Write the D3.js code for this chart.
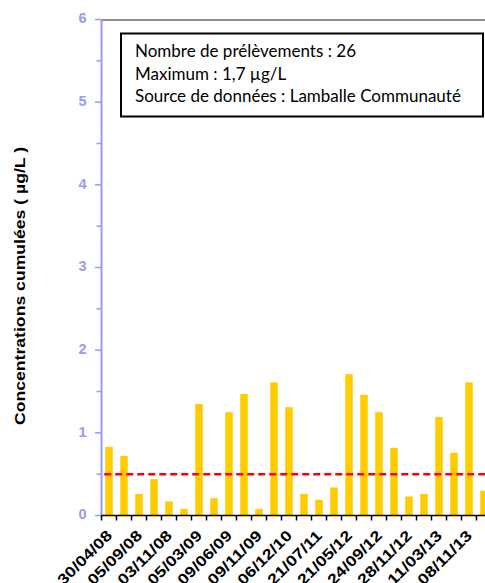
<!DOCTYPE html>
<html>
<head>
<meta charset="utf-8">
<script src="https://cdn.jsdelivr.net/npm/d3@7"></script>
<style>
  html, body { margin: 0; padding: 0; background: #fff; }
  svg { display: block; }
</style>
</head>
<body>
<div id="chart"></div>
<script>
// ---- Data ----
const sampleDates = ["30/04/08", "", "05/09/08", "", "03/11/08", "", "05/03/09", "",
  "09/06/09", "", "09/11/09", "", "06/12/10", "", "21/07/11", "", "21/05/12", "",
  "24/09/12", "", "28/11/12", "", "11/03/13", "", "08/11/13", ""];
const concentrations = [0.83, 0.72, 0.26, 0.44, 0.17, 0.08, 1.35, 0.21, 1.25, 1.47,
  0.08, 1.61, 1.31, 0.26, 0.19, 0.34, 1.71, 1.46, 1.25, 0.82, 0.23, 0.26, 1.19, 0.76,
  1.61, 0.30];
const yTicks = [0, 1, 2, 3, 4, 5, 6];
const yMinorTicks = [0.5, 1.5, 2.5, 3.5, 4.5, 5.5];
const threshold = 0.5;
const infoLines = ["Nombre de prélèvements : 26", "Maximum : 1,7 µg/L", "Source de données : Lamballe Communauté"];
const yTitle = "Concentrations cumulées ( µg/L )";

// ---- Layout ----
const W = 485, H = 583;
const plotLeft = 101.5, plotTop = 19.5, plotBottom = 515.5;
const step = 15;

const svg = d3.select("#chart").append("svg").attr("width", W).attr("height", H);

const idx = concentrations.map((d, i) => i);
const x = d3.scaleBand().domain(idx)
  .range([plotLeft, plotLeft + step * idx.length])
  .paddingInner(0.5).paddingOuter(0.25);
const y = d3.scaleLinear().domain([0, 6]).range([plotBottom, plotTop]);

// top border of plot area
svg.append("line").attr("x1", plotLeft).attr("x2", W).attr("y1", y(6) + 0.5).attr("y2", y(6) + 0.5)
  .attr("stroke", "#8c8c8c").attr("stroke-width", 2);

// bars
svg.append("g").selectAll("rect").data(concentrations).join("rect")
  .attr("x", (d, i) => x(i))
  .attr("width", x.bandwidth())
  .attr("y", d => y(d))
  .attr("height", d => y(0) - y(d))
  .attr("fill", "#ffcc00");

// threshold dashed line
svg.append("line")
  .attr("x1", x(0) - 1).attr("x2", W)
  .attr("y1", y(threshold)).attr("y2", y(threshold))
  .attr("stroke", "#ff0000").attr("stroke-width", 2.5)
  .attr("stroke-dasharray", "7,4");

// y axis
const axisColor = "#9a9af2";
const gy = svg.append("g");
gy.append("line").attr("x1", plotLeft).attr("x2", plotLeft).attr("y1", y(6)).attr("y2", y(0))
  .attr("stroke", axisColor).attr("stroke-width", 2);
gy.selectAll("line.major").data(yTicks).join("line").attr("class", "major")
  .attr("x1", plotLeft - 6.5).attr("x2", plotLeft).attr("y1", d => y(d)).attr("y2", d => y(d))
  .attr("stroke", axisColor).attr("stroke-width", 1.5);
gy.selectAll("line.minor").data(yMinorTicks).join("line").attr("class", "minor")
  .attr("x1", plotLeft - 5).attr("x2", plotLeft).attr("y1", d => y(d)).attr("y2", d => y(d))
  .attr("stroke", axisColor).attr("stroke-width", 1.5);
gy.selectAll("text").data(yTicks).join("text")
  .attr("x", 86.5).attr("y", d => y(d) - 1.5).attr("dy", "0.36em")
  .attr("text-anchor", "end")
  .attr("font-family", "Liberation Sans, Arial, sans-serif")
  .attr("font-weight", "bold").attr("font-size", 14.5)
  .attr("fill", axisColor)
  .text(d => d);

// x axis
const gx = svg.append("g");
gx.append("line").attr("x1", plotLeft).attr("x2", W).attr("y1", plotBottom).attr("y2", plotBottom)
  .attr("stroke", "#000").attr("stroke-width", 1.5);
const boundaries = idx.map(i => x(i) - (x.step() - x.bandwidth()) / 2);
gx.selectAll("line.tick").data(boundaries).join("line").attr("class", "tick")
  .attr("x1", d => d).attr("x2", d => d).attr("y1", plotBottom).attr("y2", plotBottom + 5)
  .attr("stroke", "#000").attr("stroke-width", 1.5);
gx.selectAll("text").data(idx.filter(i => sampleDates[i] !== "")).join("text")
  .attr("transform", i => `translate(${x(i) + x.bandwidth() / 2 + 4},${plotBottom + 21}) rotate(-45)`)
  .attr("text-anchor", "end")
  .attr("font-family", "Liberation Sans, Arial, sans-serif")
  .attr("font-weight", "bold").attr("font-size", 15)
  .attr("textLength", 70).attr("lengthAdjust", "spacingAndGlyphs")
  .attr("fill", "#000")
  .text(i => sampleDates[i]);

// y axis title
svg.append("text")
  .attr("transform", `translate(25,286) rotate(-90)`)
  .attr("text-anchor", "middle")
  .attr("font-family", "Liberation Sans, Arial, sans-serif")
  .attr("font-weight", "bold").attr("font-size", 14.5)
  .attr("textLength", 278).attr("lengthAdjust", "spacingAndGlyphs")
  .attr("fill", "#000")
  .text(yTitle);

// info box
const box = svg.append("g");
box.append("rect").attr("x", 121).attr("y", 33.5).attr("width", 362).attr("height", 83)
  .attr("fill", "#fff").attr("stroke", "#000").attr("stroke-width", 2);
box.selectAll("text").data(infoLines).join("text")
  .attr("x", 135).attr("y", (d, i) => 57 + i * 22.5)
  .attr("font-family", "Lato, 'Open Sans', sans-serif")
  .attr("font-size", 17)
  .attr("fill", "#000")
  .text(d => d);
</script>
</body>
</html>
